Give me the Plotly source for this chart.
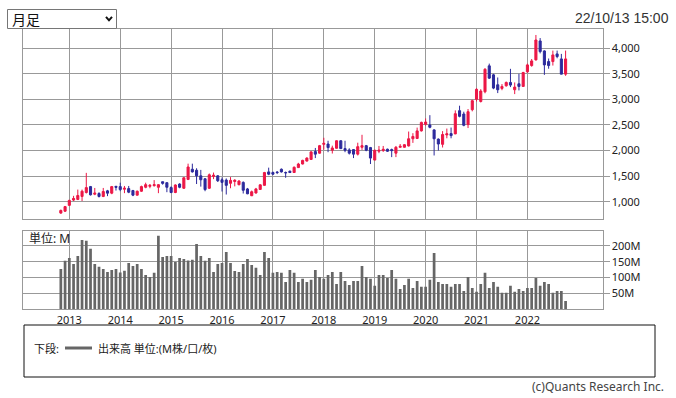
import plotly.graph_objects as go
import pandas as pd

W, H = 676, 398

# ---- data (monthly, Nov 2012 .. Oct 2022) ----
months = [str(p) for p in pd.period_range("2012-11", "2022-10", freq="M")]

open_ = [778, 814, 929, 1032, 1045, 1103, 1180, 1295, 1147, 1160, 1103, 1212, 1167, 1301,
         1295, 1244, 1256, 1218, 1128, 1205, 1282, 1301, 1314, 1282, 1391, 1372,
         1276, 1180, 1346, 1263, 1436, 1635, 1615, 1506, 1449, 1263, 1494, 1506,
         1429, 1423, 1360, 1395, 1333, 1378, 1250, 1117, 1170, 1240, 1320, 1583,
         1571, 1580, 1635, 1571, 1596, 1571, 1667, 1737, 1795, 1827, 1981, 1949,
         2122, 2128, 2006, 2045, 2192, 2038, 2013, 2019, 1930, 2064, 2096, 2058,
         1814, 1987, 2000, 2026, 2019, 1949, 2064, 2064, 2090, 2231, 2237, 2385,
         2513, 2500, 2404, 2224, 2122, 2306, 2332, 2326, 2780, 2715, 2507, 2799,
         3002, 2960, 3150, 3656, 3481, 3286, 3215, 3267, 3332, 3189, 3306, 3254,
         3539, 3662, 3773, 4143, 3948, 3740, 3740, 3890, 3792, 3494]
high = [846, 917, 1038, 1115, 1237, 1237, 1564, 1308, 1269, 1186, 1269, 1231, 1308, 1308,
        1372, 1308, 1308, 1231, 1218, 1314, 1372, 1346, 1423, 1346, 1391, 1378,
        1301, 1340, 1359, 1481, 1744, 1744, 1654, 1622, 1462, 1551, 1570, 1519,
        1474, 1455, 1481, 1440, 1420, 1397, 1269, 1218, 1270, 1340, 1583, 1666,
        1590, 1600, 1650, 1590, 1610, 1690, 1760, 1820, 1870, 1990, 2051, 2110,
        2250, 2192, 2096, 2200, 2200, 2192, 2045, 2030, 2154, 2308, 2110, 2071,
        2019, 2090, 2090, 2038, 2038, 2090, 2128, 2125, 2372, 2340, 2449, 2565,
        2628, 2692, 2417, 2237, 2380, 2430, 2450, 2786, 2877, 2760, 2812, 2994,
        3220, 3200, 3610, 3700, 3500, 3429, 3300, 3350, 3598, 3332, 3500, 3540,
        3700, 3790, 4260, 4200, 3960, 3800, 3955, 3955, 3890, 3955]
low = [763, 801, 920, 1013, 1032, 1013, 1160, 1122, 1128, 1083, 1090, 1109, 1147, 1218,
       1205, 1167, 1167, 1109, 1122, 1192, 1263, 1263, 1295, 1167, 1333, 1186,
       1167, 1167, 1263, 1250, 1423, 1570, 1346, 1295, 1205, 1250, 1442, 1385,
       1199, 1141, 1263, 1300, 1320, 1160, 1147, 1110, 1160, 1229, 1314, 1519,
       1520, 1540, 1570, 1468, 1560, 1565, 1660, 1730, 1785, 1820, 1853, 1940,
       2019, 1968, 1942, 2040, 2030, 1968, 1923, 1853, 1904, 2013, 1987, 1737,
       1814, 1949, 1974, 1974, 1872, 1872, 2058, 2060, 2080, 2150, 2225, 2372,
       2487, 2436, 1904, 2000, 2060, 2240, 2240, 2320, 2650, 2475, 2440, 2767,
       2960, 2940, 3120, 3400, 3200, 3124, 3180, 3250, 3241, 3104, 3176, 3254,
       3520, 3640, 3760, 3900, 3480, 3600, 3662, 3805, 3494, 3461]
close = [830, 904, 1026, 1064, 1122, 1205, 1276, 1135, 1167, 1103, 1199, 1167, 1295, 1282,
         1237, 1263, 1186, 1128, 1205, 1295, 1333, 1320, 1333, 1333, 1359, 1282,
         1180, 1327, 1282, 1468, 1679, 1583, 1506, 1429, 1237, 1526, 1519, 1410,
         1378, 1320, 1417, 1420, 1405, 1224, 1155, 1195, 1250, 1330, 1570, 1538,
         1538, 1570, 1583, 1565, 1571, 1673, 1737, 1808, 1853, 1974, 1930, 2096,
         2141, 2058, 2051, 2192, 2038, 2006, 1949, 1930, 2077, 2096, 2006, 1853,
         2006, 2006, 2026, 1987, 2000, 2064, 2083, 2115, 2231, 2276, 2385, 2551,
         2558, 2455, 2231, 2128, 2314, 2327, 2293, 2721, 2669, 2494, 2760, 2975,
         3197, 3164, 3590, 3416, 3221, 3189, 3254, 3332, 3280, 3241, 3254, 3526,
         3675, 3753, 4162, 3935, 3675, 3662, 3870, 3838, 3494, 3792]
volume_m = [127, 153, 162, 143, 168, 219, 216, 191, 143, 134,
            127, 118, 124, 127, 116, 122, 146, 137, 143, 127,
            108, 102, 115, 232, 165, 168, 168, 149, 162, 159,
            154, 156, 206, 168, 153, 162, 118, 143, 146, 181,
            146, 121, 118, 143, 159, 140, 131, 108, 181, 162,
            115, 118, 115, 86, 124, 115, 86, 96, 86, 93,
            124, 102, 96, 108, 118, 80,
            118, 89, 77, 89, 89, 137, 102, 96,
            74, 108, 108, 99, 124, 96, 64, 77, 96, 67, 89, 71,
            71, 93, 178, 86, 80, 80, 71, 80, 80, 58, 102, 67,
            55, 80, 115, 67, 86, 71, 52, 52, 74, 55, 64, 58,
            67, 67, 99, 74, 86, 80, 52, 58, 58, 26]
price_ticks = [1000, 1500, 2000, 2500, 3000, 3500, 4000]
volume_ticks = [50, 100, 150, 200]
volume_tick_text = ["50M", "100M", "150M", "200M"]

xs = list(range(len(months)))
year_pos = [i for i, m in enumerate(months) if m.endswith("-01")]
year_text = [months[i][:4] for i in year_pos]


def px(x):
    return x / W


def py(y):
    return 1 - y / H


GRID = "#999999"
RED = "#ec1746"
BLUE = "#2c2a9c"
FONT = "Noto Sans, Noto Sans CJK JP, sans-serif"

fig = go.Figure()
fig.add_trace(go.Candlestick(
    x=xs, open=open_, high=high, low=low, close=close,
    increasing=dict(line=dict(color=RED, width=1), fillcolor=RED),
    decreasing=dict(line=dict(color=BLUE, width=1), fillcolor=BLUE),
    whiskerwidth=0, xaxis="x", yaxis="y", showlegend=False, hoverinfo="skip"))
fig.add_trace(go.Bar(
    x=xs, y=volume_m, marker=dict(color="#666666", line=dict(width=0)),
    width=0.64, xaxis="x2", yaxis="y2", showlegend=False, hoverinfo="skip"))

xr = [-8.85, 127.7]
xdom = [px(23.3), px(602.5)]
common_x = dict(range=xr, domain=xdom, tickvals=year_pos, showgrid=True, gridcolor=GRID,
                gridwidth=1, showline=True, mirror=True, linecolor=GRID, linewidth=1,
                zeroline=False, ticks="", fixedrange=True)

fig.update_layout(
    width=W, height=H, margin=dict(l=0, r=0, t=0, b=0),
    template="none", paper_bgcolor="white", plot_bgcolor="white",
    font=dict(family=FONT, size=11, color="#222222"),
    boxgap=0.3, bargap=0.3,
    xaxis=dict(**common_x, anchor="y", showticklabels=False,
               rangeslider=dict(visible=False)),
    yaxis=dict(domain=[py(219), py(29.3)], range=[662, 4371], side="right",
               tickvals=price_ticks, tickformat=",d", showgrid=True, gridcolor=GRID,
               showline=True, mirror=True, linecolor=GRID, linewidth=1, zeroline=False,
               ticks="outside", ticklen=6, tickcolor=GRID, anchor="x",
               tickfont=dict(size=11, color="#222222"), fixedrange=True),
    xaxis2=dict(**common_x, anchor="y2", showticklabels=True, ticktext=year_text,
                tickfont=dict(size=11, color="#222222")),
    yaxis2=dict(domain=[py(309.3), py(230.7)], range=[0, 248], side="right",
                tickvals=volume_ticks, ticktext=volume_tick_text, showgrid=True,
                gridcolor=GRID, showline=True, mirror=True, linecolor=GRID, linewidth=1,
                zeroline=False, ticks="outside", ticklen=6, tickcolor=GRID, anchor="x2",
                tickfont=dict(size=11, color="#222222"), fixedrange=True),
)

shapes = []
# dropdown box
shapes.append(dict(type="rect", xref="paper", yref="paper",
                   x0=px(7.5), x1=px(116.5), y0=py(28.5), y1=py(9.5),
                   line=dict(color="#767676", width=1), fillcolor="white"))
shapes.append(dict(type="path", xref="paper", yref="paper",
                   path=f"M {px(106)} {py(16.8)} L {px(109)} {py(20.3)} L {px(112)} {py(16.8)}",
                   line=dict(color="#111111", width=2)))
# legend box
shapes.append(dict(type="rect", xref="paper", yref="paper",
                   x0=px(24), x1=px(655), y0=py(377), y1=py(325),
                   line=dict(color="#111111", width=1)))
shapes.append(dict(type="line", xref="paper", yref="paper",
                   x0=px(65), x1=px(92), y0=py(348), y1=py(348),
                   line=dict(color="#666666", width=3)))
fig.update_layout(shapes=shapes)

ann = [
    dict(text="月足", x=px(10), y=py(19), xanchor="left", yanchor="middle",
         font=dict(size=14, color="#111111")),
    dict(text="22/10/13 15:00", x=px(671), y=py(18), xanchor="right", yanchor="middle",
         font=dict(family="Liberation Sans, Arial", size=14, color="#333333")),
    dict(text="単位: M", x=px(27), y=py(238.5), xanchor="left", yanchor="middle",
         font=dict(size=12, color="#222222")),
    dict(text="下段:", x=px(32), y=py(348), xanchor="left", yanchor="middle",
         font=dict(size=11, color="#222222")),
    dict(text="出来高 単位:(M株/口/枚)", x=px(96), y=py(348), xanchor="left",
         yanchor="middle", font=dict(size=11, color="#222222")),
    dict(text="(c)Quants Research Inc.", x=px(666), y=py(386), xanchor="right",
         yanchor="middle", font=dict(size=12, color="#444444")),
]
for a in ann:
    a.update(xref="paper", yref="paper", showarrow=False)
fig.update_layout(annotations=ann)

fig.write_html("out.html", config=dict(displayModeBar=False, staticPlot=True),
               post_script="document.body.style.margin='0px';document.body.style.overflow='hidden';")
